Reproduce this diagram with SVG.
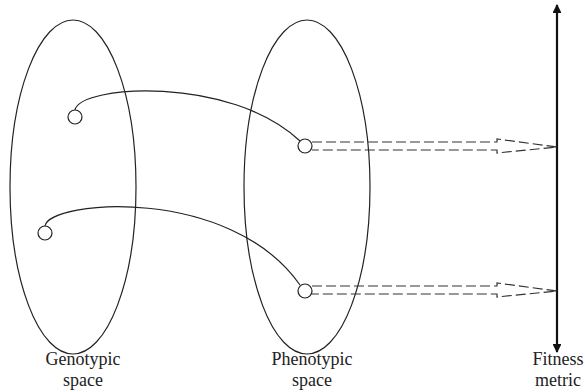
<svg xmlns="http://www.w3.org/2000/svg" width="585" height="392" viewBox="0 0 585 392">
<style>
.sp{fill:none;stroke:#222;stroke-width:1.2}
.cr{fill:#fff;stroke:#222;stroke-width:1.2}
.ds{fill:none;stroke:#333;stroke-width:1.2;stroke-dasharray:10,4}
.lb{font-family:"Liberation Serif",serif;font-size:18px;fill:#222;text-anchor:middle}
</style>
<defs>
<marker id="ah" viewBox="0 0 10 10" refX="9" refY="5" markerWidth="4" markerHeight="4" orient="auto-start-reverse">
<path d="M0,0 L10,5 L0,10 z" fill="#111"/>
</marker>
</defs>
<rect width="585" height="392" fill="#fff"/>
<g id="genotypic-space">
<ellipse class="sp" cx="73" cy="187" rx="63" ry="167"/>
<text class="lb" x="83" y="365">Genotypic</text>
<text class="lb" x="83" y="386">space</text>
</g>
<g id="phenotypic-space">
<ellipse class="sp" cx="307" cy="187" rx="63" ry="167"/>
<text class="lb" x="312" y="365">Phenotypic</text>
<text class="lb" x="312" y="386">space</text>
</g>
<g id="fitness-metric">
<line x1="557" y1="5" x2="557" y2="352" stroke="#111" stroke-width="2.2" marker-start="url(#ah)" marker-end="url(#ah)"/>
<text class="lb" x="558" y="365">Fitness</text>
<text class="lb" x="558" y="386">metric</text>
</g>
<g id="connectors">
<path class="sp" d="M75,110 C80,85 230,75 300,141"/>
<path class="sp" d="M45,226 C50,200 230,185 300,285"/>
<path class="ds" d="M312,142 L497,142 L497,139 L557,147 L497,153 L497,150 L312,150"/>
<path class="ds" d="M312,286 L497,286 L497,283 L557,291 L497,297 L497,294 L312,294"/>
</g>
<g id="g1"><circle class="cr" cx="75" cy="117" r="7"/></g>
<g id="g2"><circle class="cr" cx="45" cy="233" r="7"/></g>
<g id="p1"><circle class="cr" cx="305" cy="146" r="7"/></g>
<g id="p2"><circle class="cr" cx="305" cy="291" r="7"/></g>
</svg>
